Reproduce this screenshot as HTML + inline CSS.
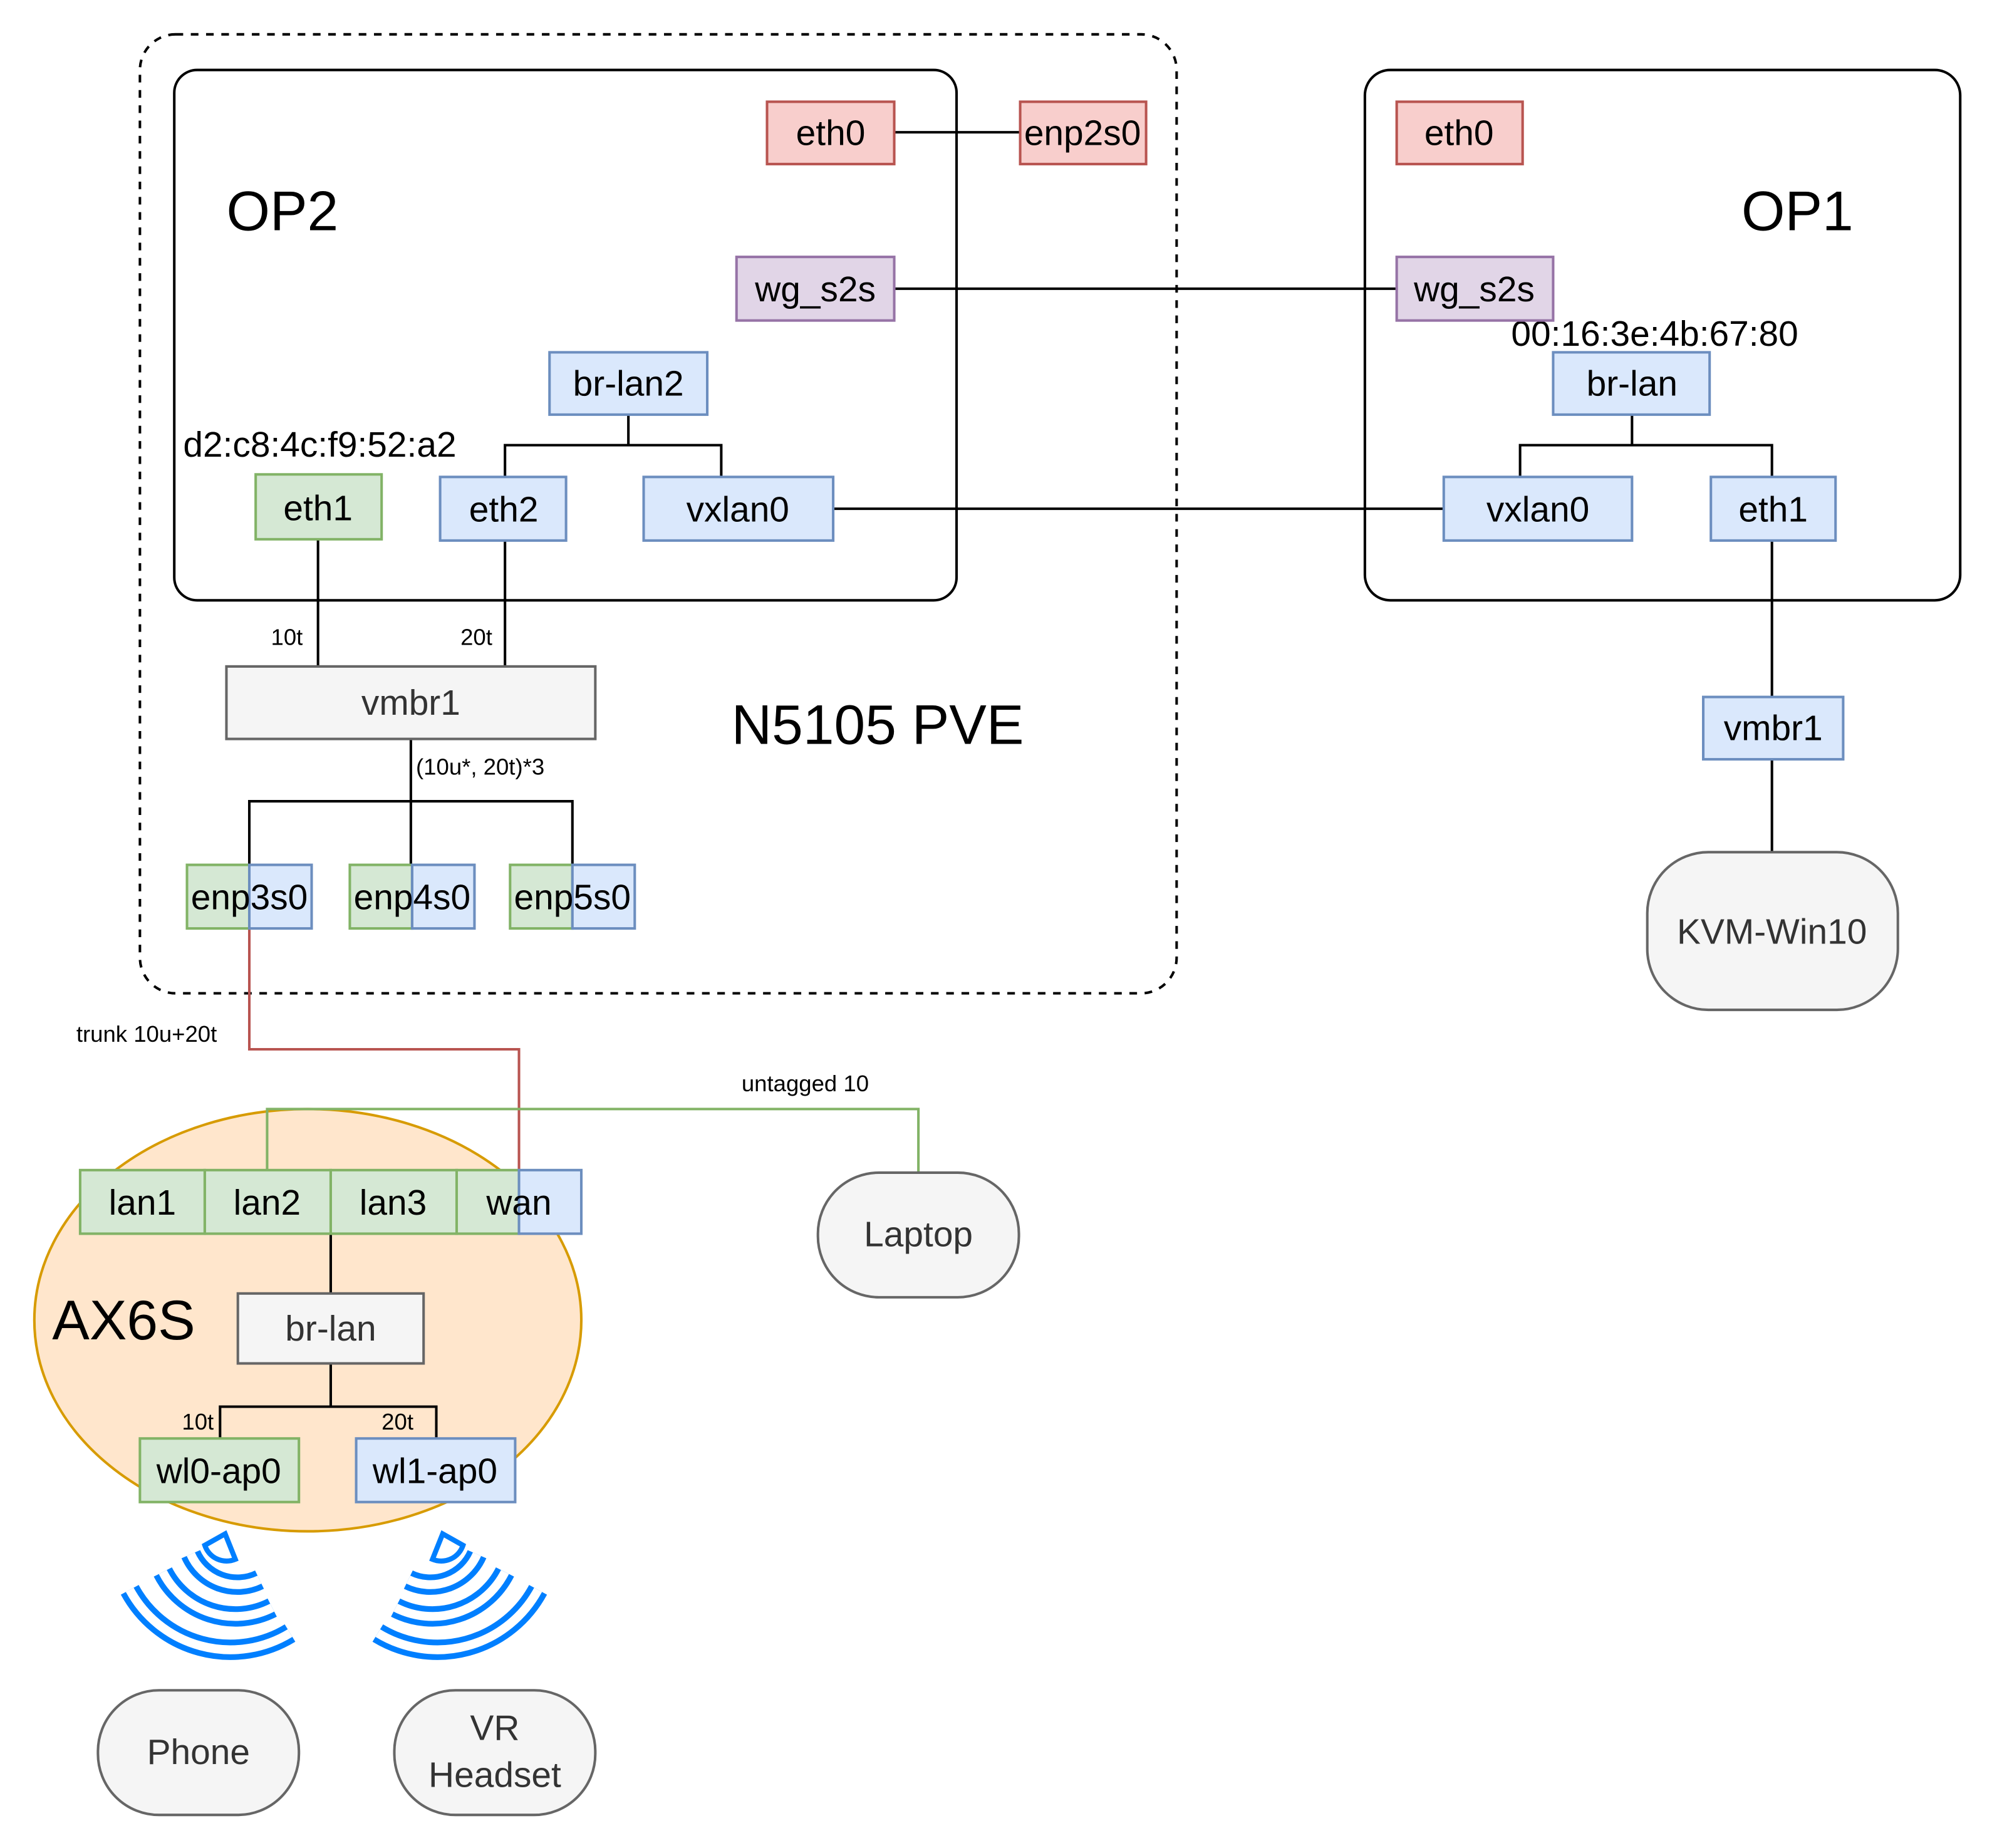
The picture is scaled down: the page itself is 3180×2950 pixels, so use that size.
<!DOCTYPE html>
<html><head><meta charset="utf-8"><style>
html,body{margin:0;padding:0;background:#fff}
svg{display:block}
text{font-family:"Liberation Sans",Arial,sans-serif}
</style></head><body>
<svg width="3180" height="2950" viewBox="0 0 1566 1453" preserveAspectRatio="none" xmlns="http://www.w3.org/2000/svg">
<rect x="0" y="0" width="1566" height="1453" fill="#fff"/>
<rect x="110" y="27" width="815" height="754" rx="28" fill="none" stroke="#000" stroke-width="2" stroke-dasharray="6,6"/>
<rect x="137" y="55" width="615" height="417" rx="18" fill="none" stroke="#000" stroke-width="2"/>
<rect x="1073" y="55" width="468" height="417" rx="20" fill="none" stroke="#000" stroke-width="2"/>
<ellipse cx="242" cy="1038" rx="215" ry="166" fill="#ffe6cc" stroke="#d79b00" stroke-width="2"/>

<g font-size="44" fill="#000">
<text x="178" y="181">OP2</text>
<text x="1369" y="181">OP1</text>
<text x="575" y="585" font-size="44">N5105 PVE</text>
<text x="41" y="1053" font-size="44">AX6S</text>
</g>

<g stroke="#000" stroke-width="2" fill="none">
<path d="M703 104H802"/>
<path d="M703 227H1098"/>
<path d="M655 400H1135"/>
<path d="M494 326V350M397 375V350H567V375"/>
<path d="M1283 326V350M1195 375V350H1393V375"/>
<path d="M250 424L250 524"/>
<path d="M397 425V524"/>
<path d="M323 581V630M196 680V630H450V680M323 630V680"/>
<path d="M1393 425V548M1393 597V670"/>
<path d="M260 970V1017M260 1072V1106M173 1131V1106H343V1131"/>
</g>
<path d="M196 730V825H408V920" stroke="#b85450" stroke-width="2" fill="none"/>
<path d="M210 920V872H722V922" stroke="#82b366" stroke-width="2" fill="none"/>

<g font-size="18" fill="#000">
<text x="213" y="507">10t</text>
<text x="362" y="507">20t</text>
<text x="327" y="609">(10u*, 20t)*3</text>
<text x="60" y="819">trunk 10u+20t</text>
<text x="583" y="858">untagged 10</text>
<text x="143" y="1124">10t</text>
<text x="300" y="1124">20t</text>
</g>
<g font-size="28" fill="#000">
<text x="144" y="359">d2:c8:4c:f9:52:a2</text>
<text x="1188" y="272">00:16:3e:4b:67:80</text>
</g>

<g stroke-width="2" font-size="28" text-anchor="middle">
<rect x="603" y="80" width="100" height="49" fill="#f8cecc" stroke="#b85450"/><text x="653" y="114">eth0</text>
<rect x="802" y="80" width="99" height="49" fill="#f8cecc" stroke="#b85450"/><text x="851" y="114">enp2s0</text>
<rect x="1098" y="80" width="99" height="49" fill="#f8cecc" stroke="#b85450"/><text x="1147" y="114">eth0</text>
<rect x="579" y="202" width="124" height="50" fill="#e1d5e7" stroke="#9673a6"/><text x="641" y="237">wg_s2s</text>
<rect x="1098" y="202" width="123" height="50" fill="#e1d5e7" stroke="#9673a6"/><text x="1159" y="237">wg_s2s</text>
<rect x="432" y="277" width="124" height="49" fill="#dae8fc" stroke="#6c8ebf"/><text x="494" y="311">br-lan2</text>
<rect x="1221" y="277" width="123" height="49" fill="#dae8fc" stroke="#6c8ebf"/><text x="1283" y="311">br-lan</text>
<rect x="201" y="373" width="99" height="51" fill="#d5e8d4" stroke="#82b366"/><text x="250" y="409">eth1</text>
<rect x="346" y="375" width="99" height="50" fill="#dae8fc" stroke="#6c8ebf"/><text x="396" y="410">eth2</text>
<rect x="506" y="375" width="149" height="50" fill="#dae8fc" stroke="#6c8ebf"/><text x="580" y="410">vxlan0</text>
<rect x="1135" y="375" width="148" height="50" fill="#dae8fc" stroke="#6c8ebf"/><text x="1209" y="410">vxlan0</text>
<rect x="1345" y="375" width="98" height="50" fill="#dae8fc" stroke="#6c8ebf"/><text x="1394" y="410">eth1</text>
<rect x="1339" y="548" width="110" height="49" fill="#dae8fc" stroke="#6c8ebf"/><text x="1394" y="582">vmbr1</text>
<rect x="178" y="524" width="290" height="57" fill="#f5f5f5" stroke="#666"/><text x="323" y="562" fill="#333">vmbr1</text>

<rect x="147" y="680" width="49" height="50" fill="#d5e8d4" stroke="#82b366"/><rect x="196" y="680" width="49" height="50" fill="#dae8fc" stroke="#6c8ebf"/><text x="196" y="715">enp3s0</text>
<rect x="275" y="680" width="49" height="50" fill="#d5e8d4" stroke="#82b366"/><rect x="324" y="680" width="49" height="50" fill="#dae8fc" stroke="#6c8ebf"/><text x="324" y="715">enp4s0</text>
<rect x="401" y="680" width="49" height="50" fill="#d5e8d4" stroke="#82b366"/><rect x="450" y="680" width="49" height="50" fill="#dae8fc" stroke="#6c8ebf"/><text x="450" y="715">enp5s0</text>

<rect x="63" y="920" width="98" height="50" fill="#d5e8d4" stroke="#82b366"/><text x="112" y="955">lan1</text>
<rect x="161" y="920" width="99" height="50" fill="#d5e8d4" stroke="#82b366"/><text x="210" y="955">lan2</text>
<rect x="260" y="920" width="99" height="50" fill="#d5e8d4" stroke="#82b366"/><text x="309" y="955">lan3</text>
<rect x="359" y="920" width="49" height="50" fill="#d5e8d4" stroke="#82b366"/><rect x="408" y="920" width="49" height="50" fill="#dae8fc" stroke="#6c8ebf"/><text x="408" y="955">wan</text>
<rect x="187" y="1017" width="146" height="55" fill="#f5f5f5" stroke="#666"/><text x="260" y="1054" fill="#333">br-lan</text>
<rect x="110" y="1131" width="125" height="50" fill="#d5e8d4" stroke="#82b366"/><text x="172" y="1166">wl0-ap0</text>
<rect x="280" y="1131" width="125" height="50" fill="#dae8fc" stroke="#6c8ebf"/><text x="342" y="1166">wl1-ap0</text>

<rect x="1295" y="670" width="197" height="124" rx="48" fill="#f5f5f5" stroke="#666"/><text x="1393" y="742" fill="#333">KVM-Win10</text>
<rect x="643" y="922" width="158" height="98" rx="48" fill="#f5f5f5" stroke="#666"/><text x="722" y="980" fill="#333">Laptop</text>
<rect x="77" y="1329" width="158" height="98" rx="48" fill="#f5f5f5" stroke="#666"/><text x="156" y="1387" fill="#333">Phone</text>
<rect x="310" y="1329" width="158" height="98" rx="48" fill="#f5f5f5" stroke="#666"/><text x="389" y="1368" fill="#333">VR</text><text x="389" y="1405" fill="#333">Headset</text>
</g>

<defs>
<g id="wifi">
<path d="M177 1206 L161 1215 A18 18 0 0 0 185 1226 Z" fill="#fff" stroke="#007fff" stroke-width="4"/>
<g fill="none">
<path d="M150 1222 A40 40 0 0 0 204 1242" stroke="#007fff" stroke-width="16"/>
<path d="M150 1222 A40 40 0 0 0 204 1242" stroke="#fff" stroke-width="7"/>
<path d="M128 1236 A64 64 0 0 0 214 1264" stroke="#007fff" stroke-width="16"/>
<path d="M128 1236 A64 64 0 0 0 214 1264" stroke="#fff" stroke-width="7"/>
<path d="M102 1250 A90 90 0 0 0 228 1284" stroke="#007fff" stroke-width="16"/>
<path d="M102 1250 A90 90 0 0 0 228 1284" stroke="#fff" stroke-width="7"/>
</g>
</g>
</defs>
<use href="#wifi"/>
<use href="#wifi" transform="translate(525 0) scale(-1 1)"/>
</svg>
</body></html>
